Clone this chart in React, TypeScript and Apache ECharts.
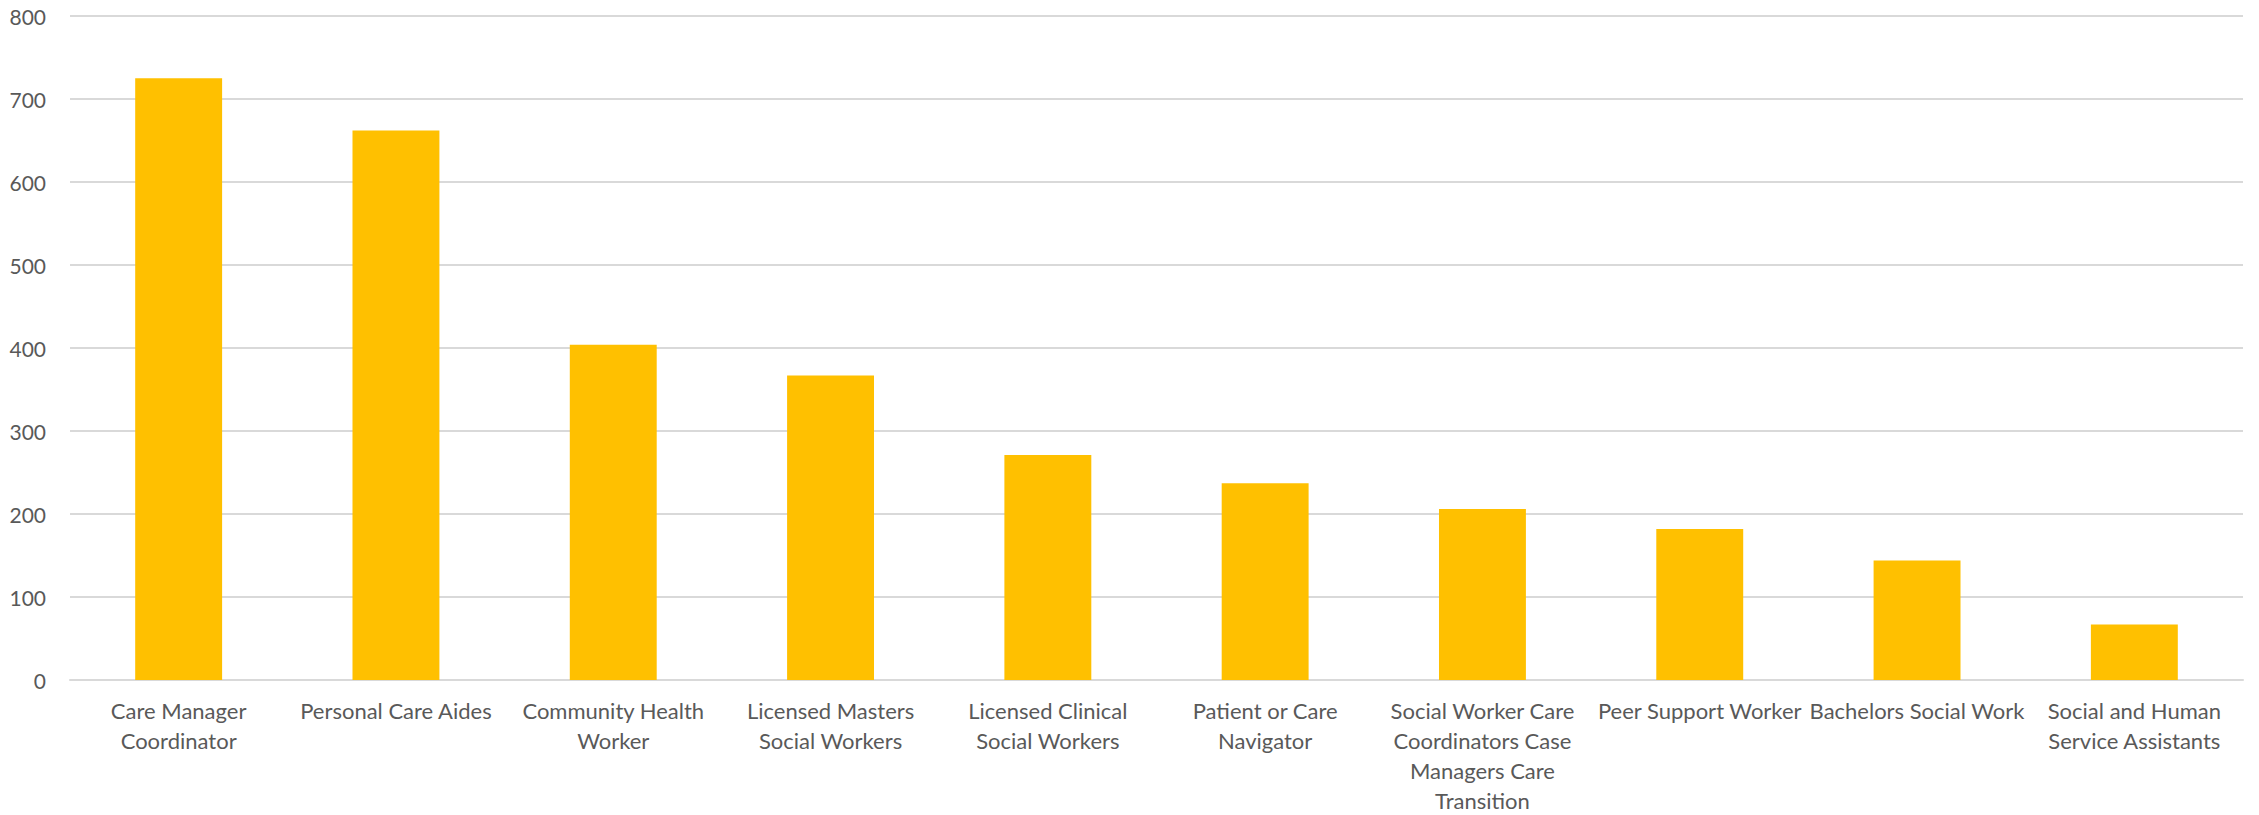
import React, { useEffect, useRef } from "react";
import * as echarts from "echarts";

const categories = [
  "Care Manager Coordinator",
  "Personal Care Aides",
  "Community Health Worker",
  "Licensed Masters Social Workers",
  "Licensed Clinical Social Workers",
  "Patient or Care Navigator",
  "Social Worker Care Coordinators Case Managers Care Transition",
  "Peer Support Worker",
  "Bachelors Social Work",
  "Social and Human Service Assistants",
];

const categoryLabels = [
  "Care Manager\nCoordinator",
  "Personal Care Aides",
  "Community Health\nWorker",
  "Licensed Masters\nSocial Workers",
  "Licensed Clinical\nSocial Workers",
  "Patient or Care\nNavigator",
  "Social Worker Care\nCoordinators Case\nManagers Care\nTransition",
  "Peer Support Worker",
  "Bachelors Social Work",
  "Social and Human\nService Assistants",
];

const values = [725, 662, 404, 367, 271, 237, 206, 182, 144, 67];

const yTicks = [0, 100, 200, 300, 400, 500, 600, 700, 800];

export default function App() {
  const ref = useRef<HTMLDivElement>(null);
  useEffect(() => {
    document.body.style.margin = "0";
    if (!ref.current) return;
    const chart = echarts.init(ref.current, undefined, { renderer: "svg" });
    const font = "Lato, 'Open Sans', sans-serif";
    chart.setOption({
      animation: false,
      backgroundColor: "#ffffff",
      grid: { left: 70, right: 16, top: 16, bottom: 129, containLabel: false },
      xAxis: {
        type: "category",
        data: categories,
        axisLine: { show: true, lineStyle: { color: "#d9d9d9", width: 2 } },
        axisTick: { show: false },
        axisLabel: {
          interval: 0,
          color: "#595959",
          fontFamily: font,
          fontSize: 22,
          lineHeight: 30,
          margin: 15,
          formatter: (_v: string, i: number) => categoryLabels[i],
        },
      },
      yAxis: {
        type: "value",
        min: yTicks[0],
        max: yTicks[yTicks.length - 1],
        interval: 100,
        axisLine: { show: false },
        axisTick: { show: false },
        splitLine: { lineStyle: { color: "#d9d9d9", width: 2 } },
        axisLabel: {
          color: "#595959",
          fontFamily: font,
          fontSize: 21,
          margin: 24,
        },
      },
      series: [
        {
          type: "bar",
          data: values,
          barCategoryGap: "60%",
          itemStyle: { color: "#FFC000" },
        },
      ],
    });
    return () => chart.dispose();
  }, []);
  return <div ref={ref} style={{ width: 2259, height: 815 }} />;
}
